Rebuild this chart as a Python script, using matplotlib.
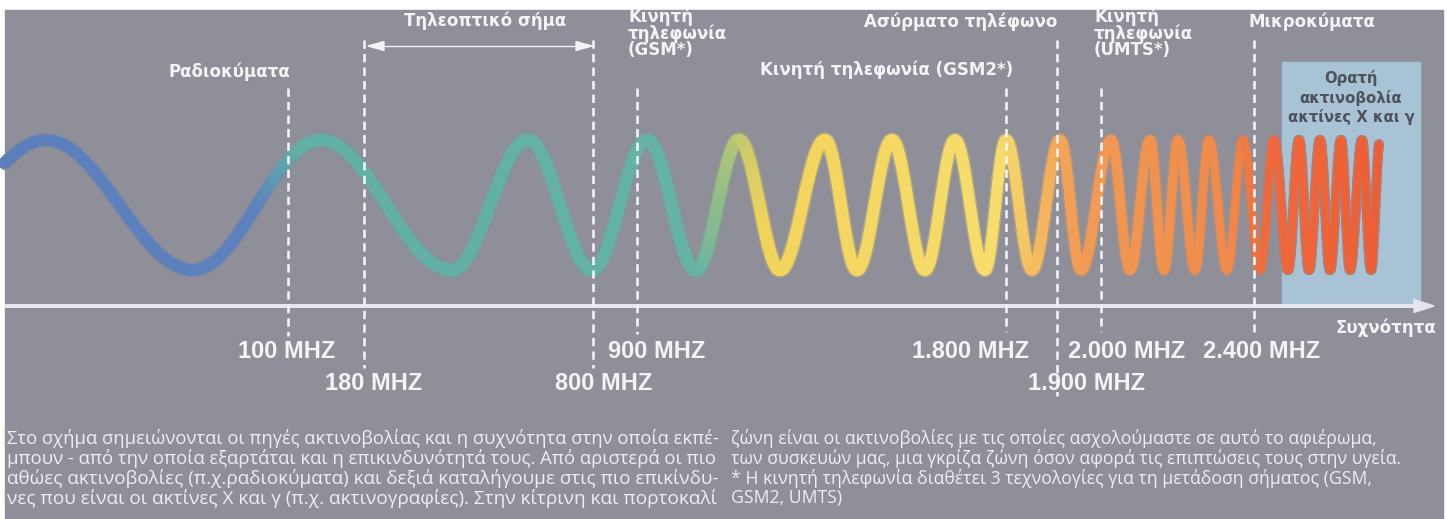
import numpy as np
import matplotlib
matplotlib.use("Agg")
import matplotlib.pyplot as plt
from matplotlib.collections import LineCollection
from matplotlib.patches import Rectangle, Polygon
from matplotlib.colors import to_rgb

# ---------------- DATA ----------------
freq_labels = ["100 MHZ", "180 MHZ", "800 MHZ", "900 MHZ",
               "1.800 MHZ", "1.900 MHZ", "2.000 MHZ", "2.400 MHZ"]
source_labels = ["Ραδιοκύματα", "Τηλεοπτικό σήμα", "Κινητή\nτηλεφωνία\n(GSM*)",
                 "Κινητή τηλεφωνία (GSM2*)", "Ασύρματο τηλέφωνο",
                 "Κινητή\nτηλεφωνία\n(UMTS*)", "Μικροκύματα"]
box_label = "Ορατή\nακτινοβολία\nακτίνες Χ και γ"
axis_label = "Συχνότητα"
# x of successive crests / troughs of the drawn wave
wave_extrema_x = [46, 193, 321, 452, 528, 592, 647, 696, 739, 780, 825, 857,
                  892, 925, 955, 985, 1006, 1032, 1060, 1081, 1111, 1130, 1150,
                  1164, 1178, 1195, 1209, 1227, 1243, 1260, 1274, 1288, 1299,
                  1309, 1320, 1330, 1341, 1350, 1362, 1371]
body_left = [
    "Στο σχήμα σημειώνονται οι πηγές ακτινοβολίας και η συχνότητα στην οποία εκπέ-",
    "μπουν - από την οποία εξαρτάται και η επικινδυνότητά τους. Από αριστερά οι πιο",
    "αθώες ακτινοβολίες (π.χ.ραδιοκύματα) και δεξιά καταλήγουμε στις πιο επικίνδυ-",
    "νες που είναι οι ακτίνες Χ και γ (π.χ. ακτινογραφίες). Στην κίτρινη και πορτοκαλί",
]
body_right = [
    "ζώνη είναι οι ακτινοβολίες με τις οποίες ασχολούμαστε σε αυτό το αφιέρωμα,",
    "των συσκευών μας, μια γκρίζα ζώνη όσον αφορά τις επιπτώσεις τους στην υγεία.",
    "* Η κινητή τηλεφωνία διαθέτει 3 τεχνολογίες για τη μετάδοση σήματος (GSM,",
    "GSM2, UMTS)",
]

# ---------------- LAYOUT / STYLE ----------------
W, H = 1447, 519
BG = "#8e8f98"
WHITE = "#f3f4f6"
CY, AMP, AXIS_Y = 205, 65, 306
marker_x = [288, 364, 593, 637, 1006, 1057, 1101, 1254]
marker_top = [88, 40, 40, 88, 88, 40, 88, 40]
marker_bot = [336, 368, 368, 334, 332, 396, 332, 332]
label_cx = [287, 374, 604, 657, 971, 1087, 1127, 1262]
label_y = [352, 384, 384, 352, 352, 384, 352, 352]
color_stops_x = [5, 255, 300, 700, 728, 765, 1000, 1040, 1075, 1230, 1268, 1380]
color_stops_c = ["#5b7ebd", "#5d81bf", "#63b0a6", "#64b3a5", "#a6c27c", "#f2d35a",
                 "#f7dd6c", "#f4b85e", "#f29c54", "#f08a4a", "#ef683a", "#ee5e36"]
width_stops_x = [5, 300, 760, 1060, 1250, 1380]
width_stops_w = [10, 11, 12, 10.5, 7.5, 7]

fig = plt.figure(figsize=(W / 100, H / 100), dpi=100, facecolor="white")
ax = fig.add_axes([0, 0, 1, 1])
ax.set_xlim(0, W)
ax.set_ylim(H, 0)
ax.axis("off")
renderer = fig.canvas.get_renderer()
PX = 72 / 100  # points per pixel

ax.add_patch(Rectangle((5, 10), 1438, 509, color=BG, zorder=0))

# light blue box
ax.add_patch(Rectangle((1282, 62), 138, AXIS_Y - 62, color="#a8c2d6", zorder=1))


def size_for(text, width, **kw):
    t = ax.text(0, 0, text, fontsize=12, **kw)
    w = t.get_window_extent(renderer).width
    t.remove()
    return 12 * width / w


# ---------------- WAVE ----------------
ext = np.array(wave_extrema_x, float)
k = np.arange(len(ext)) * np.pi
xs = np.linspace(5, 1379, 8000)
phase = np.interp(xs, ext, k)
pre = xs < ext[0]
phase[pre] = (xs[pre] - ext[0]) * np.pi / (ext[1] - ext[0])
post = xs > ext[-1]
phase[post] = k[-1] + (xs[post] - ext[-1]) * np.pi / (ext[-1] - ext[-2])
ys = CY - AMP * np.cos(phase)

rgb = np.array([to_rgb(c) for c in color_stops_c])
cols = np.column_stack([np.interp(xs, color_stops_x, rgb[:, i]) for i in range(3)])
lws = np.interp(xs, width_stops_x, width_stops_w) * PX
bg = np.array(to_rgb(BG))
pts = np.column_stack([xs, ys]).reshape(-1, 1, 2)
segs = np.concatenate([pts[:-1], pts[1:]], axis=1)
glow = LineCollection(segs, colors=0.35 * cols[:-1] + 0.65 * bg,
                      linewidths=lws[:-1] + 3 * PX, capstyle="round", zorder=2)
ax.add_collection(glow)
main = LineCollection(segs, colors=cols[:-1], linewidths=lws[:-1],
                      capstyle="round", zorder=3)
ax.add_collection(main)

# ---------------- AXIS ----------------
ax.plot([5, 1418], [AXIS_Y, AXIS_Y], color="#e4e8ee", lw=4 * PX,
        solid_capstyle="butt", zorder=4)
ax.add_patch(Polygon([[1414, AXIS_Y - 6.5], [1434, AXIS_Y], [1414, AXIS_Y + 6.5]],
                     closed=True, color="#e4e8ee", zorder=4))

# ---------------- DASHED MARKERS ----------------
for x, t, b in zip(marker_x, marker_top, marker_bot):
    ax.plot([x, x], [t, b], color=WHITE, lw=2.6 * PX,
            linestyle=(0, (3.2, 2.0)), dash_capstyle="butt", zorder=5)

# TV band arrow
ax.plot([372, 588], [46, 46], color=WHITE, lw=1.4 * PX, zorder=5)
ax.add_patch(Polygon([[368, 46], [384, 41.5], [384, 50.5]], closed=True, color=WHITE, zorder=5))
ax.add_patch(Polygon([[592, 46], [576, 41.5], [576, 50.5]], closed=True, color=WHITE, zorder=5))

# ---------------- FREQUENCY LABELS ----------------
lab_font = dict(family=["Liberation Sans", "DejaVu Sans"], weight="bold")
fs = size_for("1.800 MHZ", 116, **lab_font)
for s, cx, y in zip(freq_labels, label_cx, label_y):
    ax.text(cx, y, s, ha="center", va="center", fontsize=fs, color=WHITE,
            zorder=6, **lab_font)

# ---------------- SOURCE LABELS ----------------
top_font = dict(family=["DejaVu Sans"], weight="bold")
ts = size_for(source_labels[3], 252, **top_font)


def put(s, x, y, ha, color=WHITE, dy=16.5, size=None):
    for i, line in enumerate(s.split("\n")):
        ax.text(x, y + i * dy, line, ha=ha, va="center", fontsize=size or ts,
                color=color, zorder=6, **top_font)


put(source_labels[0], 290, 72, "right")
put(source_labels[1], 485, 21, "center")
put(source_labels[2], 628, 17, "left")
put(source_labels[3], 760, 70, "left")
put(source_labels[4], 1057, 22, "right")
put(source_labels[5], 1094, 17, "left")
put(source_labels[6], 1249, 22, "left")
put(box_label, 1351, 78, "center", color="#4e525c", dy=19.5,
    size=size_for("ακτίνες Χ και γ", 127, **top_font))
put(axis_label, 1436, 328, "right", size=ts)

# ---------------- BODY TEXT ----------------
body_font = dict(family=["Open Sans", "DejaVu Sans"])
rows = [438, 458, 478, 498]
for line, y in zip(body_left, rows):
    ax.text(7, y, line, ha="left", va="center", fontsize=size_for(line, 711, **body_font),
            color="#eceef2", zorder=6, **body_font)
rs = size_for(body_right[1], 669, **body_font)
for line, y in zip(body_right, rows):
    ax.text(731, y, line, ha="left", va="center", fontsize=rs, color="#eceef2",
            zorder=6, **body_font)

fig.savefig("out.png", dpi=100, facecolor="white")
